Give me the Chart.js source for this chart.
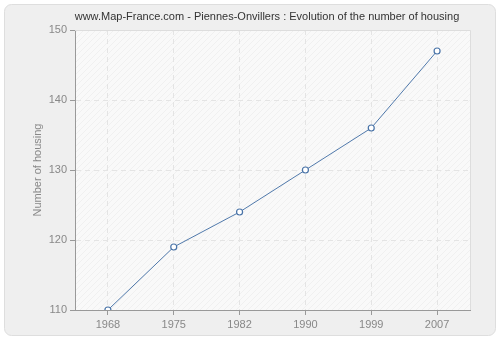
<!DOCTYPE html>
<html>
<head>
<meta charset="utf-8">
<script src="https://cdn.jsdelivr.net/npm/chart.js@4"></script>
<style>
  html, body { margin: 0; padding: 0; background: #ffffff; }
  #wrap { width: 500px; height: 340px; }
</style>
</head>
<body>
<div id="wrap"><canvas id="c" width="500" height="340"></canvas></div>
<script>
const years = ['1968', '1975', '1982', '1990', '1999', '2007'];
const housing = [110, 119, 124, 130, 136, 147];
const yTicks = [110, 120, 130, 140, 150];

const chartTitle = 'www.Map-France.com - Piennes-Onvillers : Evolution of the number of housing';
const yTitle = 'Number of housing';
const FONT = '"Liberation Sans", Arial, sans-serif';

// diagonal hatch used behind the plot
function makeHatch(ctx) {
  const p = document.createElement('canvas');
  p.width = 6; p.height = 6;
  const g = p.getContext('2d');
  g.fillStyle = '#f9f9f9';
  g.fillRect(0, 0, 6, 6);
  g.strokeStyle = '#f0f0f0';
  g.lineWidth = 1;
  g.beginPath();
  g.moveTo(0, 6); g.lineTo(6, 0);
  g.stroke();
  return ctx.createPattern(p, 'repeat');
}

function roundRect(ctx, x, y, w, h, r) {
  ctx.beginPath();
  ctx.moveTo(x + r, y);
  ctx.lineTo(x + w - r, y);
  ctx.arcTo(x + w, y, x + w, y + r, r);
  ctx.lineTo(x + w, y + h - r);
  ctx.arcTo(x + w, y + h, x + w - r, y + h, r);
  ctx.lineTo(x + r, y + h);
  ctx.arcTo(x, y + h, x, y + h - r, r);
  ctx.lineTo(x, y + r);
  ctx.arcTo(x, y, x + r, y, r);
  ctx.closePath();
}

const framePlugin = {
  id: 'frame',
  beforeDraw(chart) {
    const ctx = chart.ctx;
    const a = chart.chartArea;
    ctx.save();
    ctx.fillStyle = '#ffffff';
    ctx.fillRect(0, 0, chart.width, chart.height);
    roundRect(ctx, 4.5, 4.5, 491, 331, 7);
    ctx.fillStyle = '#efefef';
    ctx.fill();
    ctx.strokeStyle = '#dedede';
    ctx.lineWidth = 1;
    ctx.stroke();
    ctx.fillStyle = makeHatch(ctx);
    ctx.fillRect(a.left, a.top, a.right - a.left, a.bottom - a.top);

    ctx.fillStyle = '#333333';
    ctx.font = '11px ' + FONT;
    ctx.textAlign = 'center';
    ctx.textBaseline = 'middle';
    ctx.fillText(chartTitle, 267, 17);

    ctx.translate(38, (a.top + a.bottom) / 2);
    ctx.rotate(-Math.PI / 2);
    ctx.fillStyle = '#888888';
    ctx.font = '11px ' + FONT;
    ctx.fillText(yTitle, 0, 0);
    ctx.restore();
  },
  beforeDatasetsDraw(chart) {
    const ctx = chart.ctx;
    const a = chart.chartArea;
    ctx.save();
    ctx.strokeStyle = '#dddddd';
    ctx.lineWidth = 1;
    ctx.beginPath();
    ctx.moveTo(a.left, a.top + 0.5);
    ctx.lineTo(a.right + 0.5, a.top + 0.5);
    ctx.lineTo(a.right + 0.5, a.bottom);
    ctx.stroke();
    ctx.restore();
  }
};

new Chart(document.getElementById('c'), {
  type: 'line',
  data: {
    labels: years,
    datasets: [{
      data: housing,
      borderColor: '#5079ab',
      borderWidth: 1,
      backgroundColor: '#ffffff',
      pointBackgroundColor: '#ffffff',
      pointBorderColor: '#4a74a8',
      pointBorderWidth: 1.2,
      pointRadius: 3,
      tension: 0,
      fill: false
    }]
  },
  options: {
    responsive: false,
    animation: false,
    layout: { padding: { top: 30, right: 30, left: 0, bottom: 0 } },
    plugins: { legend: { display: false }, title: { display: false }, tooltip: { enabled: false } },
    scales: {
      x: {
        type: 'category',
        offset: true,
        grid: { offset: false, color: '#e4e4e4', lineWidth: 1, tickLength: 5, tickColor: '#999999' },
        border: { display: true, color: '#999999', width: 1, dash: [5, 4] },
        ticks: { color: '#888888', font: { family: FONT, size: 11 }, padding: 3, maxRotation: 0 },
        afterFit(s) { s.height = 30; }
      },
      y: {
        min: 110,
        max: 150,
        afterBuildTicks(s) { s.ticks = yTicks.map(v => ({ value: v })); },
        grid: { color: '#e4e4e4', lineWidth: 1, tickLength: 5, tickColor: '#999999' },
        border: { display: true, color: '#999999', width: 1, dash: [5, 4] },
        ticks: { color: '#888888', font: { family: FONT, size: 11 }, padding: 3 },
        afterFit(s) { s.width = 75; }
      }
    }
  },
  plugins: [framePlugin]
});
</script>
</body>
</html>
